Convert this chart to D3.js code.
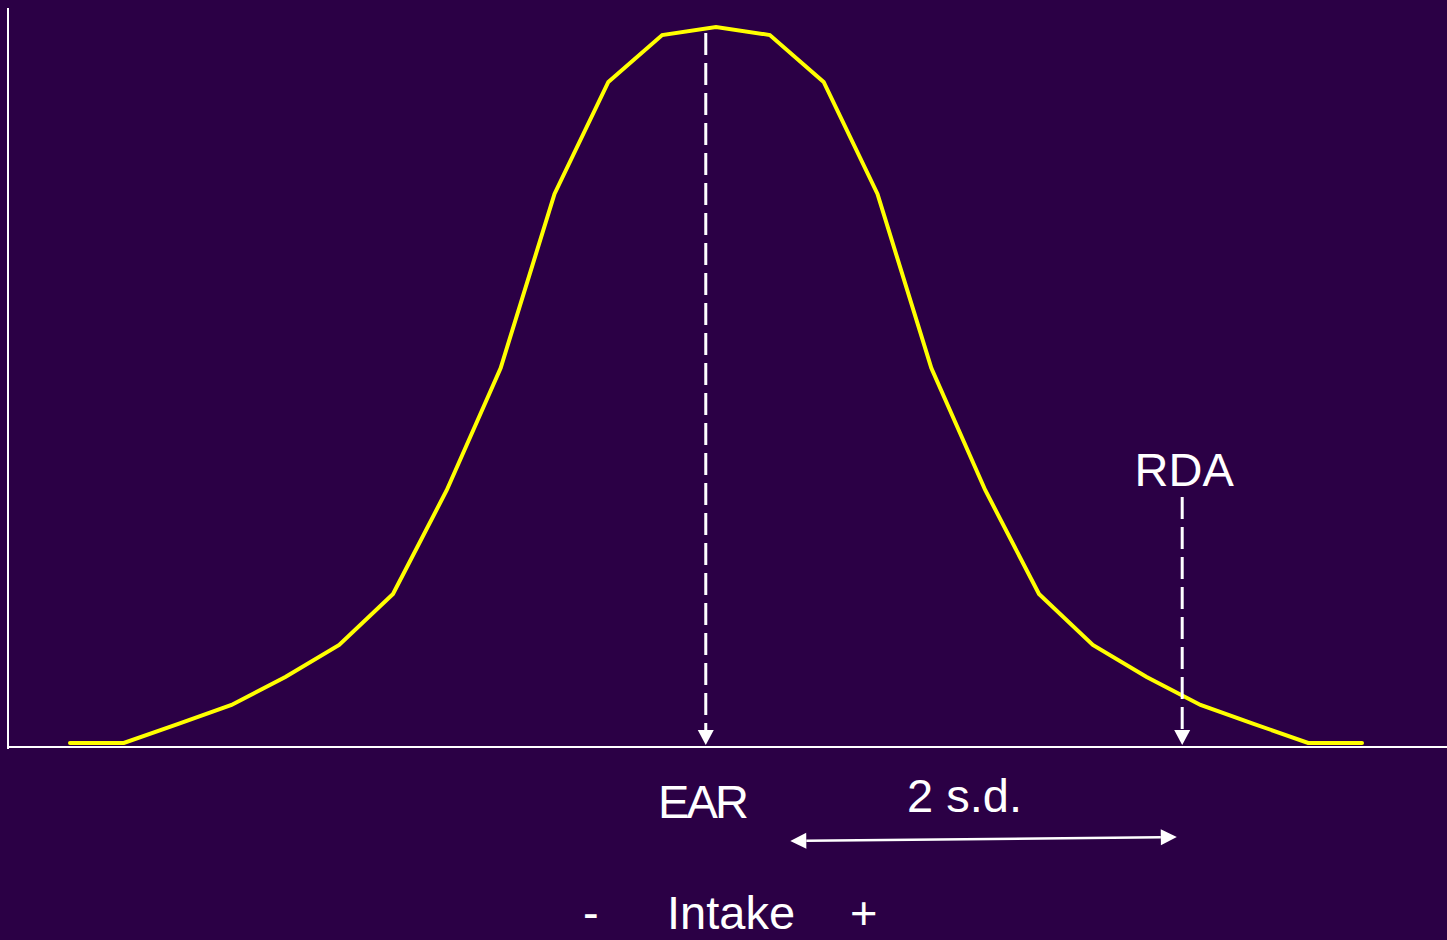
<!DOCTYPE html>
<html>
<head>
<meta charset="utf-8">
<script src="https://cdn.jsdelivr.net/npm/d3@7"></script>
<style>
  html, body { margin: 0; padding: 0; background: #2b0045; overflow: hidden; }
  svg { display: block; }
  text { font-family: "Liberation Sans", Arial, sans-serif; fill: #ffffff; }
</style>
</head>
<body>
<svg id="chart" width="1447" height="940"></svg>
<script>
// ---- data ----
const intakeSteps = [0,1,2,3,4,5,6,7,8,9,10,11,12,13,14,15,16,17,18,19,20,21,22,23,24];
const frequency  = [0,0,2.65,5.31,9.22,13.69,20.81,35.34,52.37,76.68,92.32,98.88,100,
                    98.88,92.32,76.68,52.37,35.34,20.81,13.69,9.22,5.31,2.65,0,0];
const earValue = 11.81;
const rdaValue = 20.66;
const sdFrom = 13.38, sdTo = 20.56;
const labels = { ear: "EAR", rda: "RDA", sd: "2 s.d.", minus: "-", intake: "Intake", plus: "+" };

// ---- layout ----
const svg = d3.select("#chart");
const x = d3.scaleLinear().domain([0, 24]).range([70, 1362]);
const y = d3.scaleLinear().domain([0, 100]).range([743, 27]);
const axisY = y(0) + 4;
const axisX = 8;

svg.append("rect").attr("width", 1447).attr("height", 940).attr("fill", "#2b0045");

// axes
svg.append("line").attr("x1", axisX).attr("x2", axisX).attr("y1", 8).attr("y2", axisY + 2)
  .attr("stroke", "#fff").attr("stroke-width", 2);
svg.append("line").attr("x1", axisX).attr("x2", 1447).attr("y1", axisY).attr("y2", axisY)
  .attr("stroke", "#fff").attr("stroke-width", 2);

// curve
const line = d3.line().x((d, i) => x(intakeSteps[i])).y(d => y(d));
svg.append("path").datum(frequency).attr("d", line)
  .attr("fill", "none").attr("stroke", "#ffff00").attr("stroke-width", 4)
  .attr("stroke-linecap", "round").attr("stroke-linejoin", "miter");

// dashed arrows
function dashedArrow(v, yTop) {
  const xv = x(v);
  const tip = axisY - 2;
  const headH = 15, headW = 8;
  svg.append("line").attr("x1", xv).attr("x2", xv).attr("y1", yTop).attr("y2", tip - headH)
    .attr("stroke", "#fff").attr("stroke-width", 3).attr("stroke-dasharray", "22,8");
  svg.append("path")
    .attr("d", `M${xv - headW},${tip - headH} L${xv + headW},${tip - headH} L${xv},${tip} Z`)
    .attr("fill", "#fff");
}
dashedArrow(earValue, 33);
dashedArrow(rdaValue, 497);

// 2 s.d. double arrow
const x1 = x(sdFrom), x2 = x(sdTo), y1 = 841, y2 = 837;
const hl = 16, hw = 8;
const ang = Math.atan2(y2 - y1, x2 - x1);
const cos = Math.cos(ang), sin = Math.sin(ang);
svg.append("line")
  .attr("x1", x1 + hl * cos).attr("y1", y1 + hl * sin)
  .attr("x2", x2 - hl * cos).attr("y2", y2 - hl * sin)
  .attr("stroke", "#fff").attr("stroke-width", 2.5);
function head(tx, ty, dir) {
  const bx = tx - dir * hl * cos, by = ty - dir * hl * sin;
  svg.append("path")
    .attr("d", `M${tx},${ty} L${bx - hw * sin},${by + hw * cos} L${bx + hw * sin},${by - hw * cos} Z`)
    .attr("fill", "#fff");
}
head(x2, y2, 1);
head(x1, y1, -1);

// labels
const fs = 47;
svg.append("text").attr("x", x(rdaValue) + 2).attr("y", 486).attr("text-anchor", "middle")
  .attr("font-size", fs).text(labels.rda);
svg.append("text").attr("x", 658).attr("y", 818).attr("font-size", fs)
  .attr("textLength", 91).text(labels.ear);
svg.append("text").attr("x", 907).attr("y", 812).attr("font-size", fs).text(labels.sd);
svg.append("text").attr("x", 583).attr("y", 929).attr("font-size", fs).text(labels.minus);
svg.append("text").attr("x", 667).attr("y", 929).attr("font-size", fs).text(labels.intake);
svg.append("text").attr("x", 850).attr("y", 929).attr("font-size", fs).text(labels.plus);
</script>
</body>
</html>
